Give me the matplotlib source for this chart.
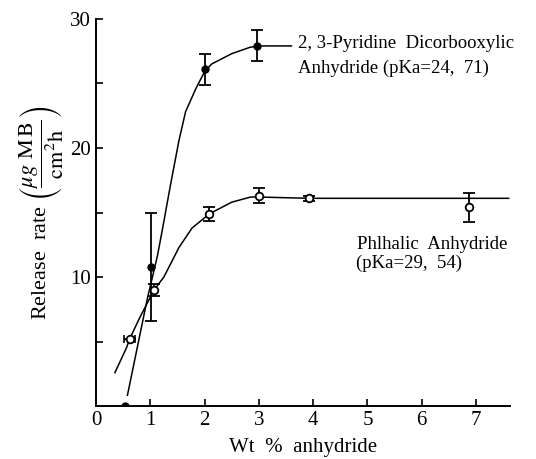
import matplotlib
matplotlib.use('agg')
import matplotlib.pyplot as plt

plt.rcParams["font.family"] = "Liberation Serif"
plt.rcParams["mathtext.fontset"] = "stix"
plt.rcParams.update({'font.size': 15})

# Data
# 2,3-Pyridine dicarboxylic anhydride (filled circles)
pyr_x = [0.53, 1.02, 2.0, 2.96]
pyr_y = [0.0, 10.8, 26.1, 27.9]
pyr_err = [0.0, 4.2, 1.2, 1.2]
pyr_curve_x = [0.58, 0.95, 1.13, 1.22, 1.38, 1.53, 1.65, 1.84, 2.0, 2.13, 2.5, 2.84, 3.0, 3.6]
pyr_curve_y = [0.85, 8.4, 11.6, 13.6, 17.3, 20.6, 22.8, 24.6, 25.9, 26.5, 27.3, 27.8, 27.9, 27.9]

# Phthalic anhydride (open circles)
pht_x = [0.62, 1.07, 2.09, 3.0, 3.93, 6.87]
pht_y = [5.2, 9.0, 14.9, 16.3, 16.1, 15.4]
pht_err = [0.0, 0.5, 0.55, 0.6, 0.2, 1.1]
pht_curve_x = [0.35, 0.56, 0.62, 0.8, 1.07, 1.25, 1.53, 1.77, 2.09, 2.5, 2.85, 3.0, 3.93, 6.87, 7.6]
pht_curve_y = [2.6, 4.5, 5.2, 6.8, 9.0, 10.0, 12.3, 13.8, 14.9, 15.8, 16.2, 16.2, 16.1, 16.1, 16.1]

x_ticks = [0, 1, 2, 3, 4, 5, 6, 7]
y_ticks = [5, 10, 15, 20, 25, 30]
y_tick_labels = ['', '10', '', '20', '', '30']


def plot():
    fig = plt.figure(figsize=(5.36, 4.59), dpi=100)
    ax = fig.add_axes([0.179, 0.115, 0.772, 0.844])

    ax.plot(pyr_curve_x, pyr_curve_y, color='black', linewidth=1.1)
    ax.plot(pht_curve_x, pht_curve_y, color='black', linewidth=1.1)

    ax.errorbar(pyr_x, pyr_y, yerr=pyr_err, fmt='o', color='black', markersize=5,
                capsize=4, elinewidth=1.3, capthick=1.3, zorder=3)
    ax.errorbar(pht_x, pht_y, yerr=pht_err, fmt='o', color='black', markerfacecolor='white',
                markeredgewidth=1.3, markersize=5.5, capsize=4, elinewidth=1.3,
                capthick=1.3, zorder=3)
    # sideways marks on the first open point
    ax.errorbar([pht_x[0]], [pht_y[0]], xerr=[0.1], fmt='none', color='black',
                capsize=3, elinewidth=1.0, capthick=1.2, zorder=2)

    ax.text(3.72, 28.1, "2, 3-Pyridine  Dicorbooxylic", fontsize=13.5, ha='left', va='center')
    ax.text(3.72, 26.2, "Anhydride (pKa=24,  71)", fontsize=13.5, ha='left', va='center')
    ax.text(4.8, 12.5, "Phlhalic  Anhydride", fontsize=13.5, ha='left', va='center')
    ax.text(4.78, 11.1, "(pKa=29,  54)", fontsize=13.5, ha='left', va='center')

    ax.set_xlim(0, 7.62)
    ax.set_ylim(0, 30)
    ax.set_xticks(x_ticks)
    ax.set_yticks(y_ticks)
    ax.set_yticklabels(y_tick_labels)
    ax.tick_params(direction='in', length=5, width=1.2, labelsize=15)
    ax.spines['top'].set_visible(False)
    ax.spines['right'].set_visible(False)
    ax.spines['left'].set_linewidth(1.4)
    ax.spines['bottom'].set_linewidth(1.4)

    ax.set_xlabel("Wt  %  anhydride", fontsize=15, labelpad=6)
    ax.set_ylabel(r"Release  rate $\left(\dfrac{\mu g\ \mathrm{M\,B}}{\mathrm{cm^2h}}\right)$",
                  fontsize=16, labelpad=4)

    fig.savefig("out.png", dpi=100)


if __name__ == "__main__":
    plot()
